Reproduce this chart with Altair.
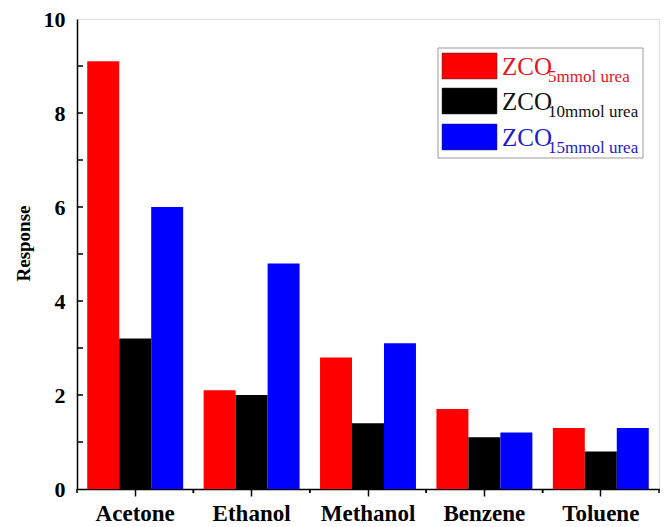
import altair as alt
import pandas as pd

categories = ["Acetone", "Ethanol", "Methanol", "Benzene", "Toluene"]
series = ["5mmol urea", "10mmol urea", "15mmol urea"]
vals_5 = [9.1, 2.1, 2.8, 1.7, 1.3]
vals_10 = [3.2, 2.0, 1.4, 1.1, 0.8]
vals_15 = [6.0, 4.8, 3.1, 1.2, 1.3]
bar_colors = ["#ff0000", "#000000", "#0000ff"]
text_colors = ["#e8141c", "#111111", "#1c1ccc"]
y_minor = [1, 2, 3, 4, 5, 6, 7, 8, 9]

rows = []
for s, vals in zip(series, [vals_5, vals_10, vals_15]):
    for c, v in zip(categories, vals):
        rows.append({"cat": c, "series": s, "value": v})
df = pd.DataFrame(rows)

FONT = "Liberation Serif"
W, H = 582, 470

xscale = alt.Scale(paddingInner=0, paddingOuter=0)
yscale = alt.Scale(domain=[0, 10], nice=False, zero=True)

bars = alt.Chart(df).mark_bar().encode(
    x=alt.X("cat:N", sort=categories, scale=xscale,
            axis=alt.Axis(title=None, labelAngle=0, tickSize=7, tickWidth=1.5,
                          tickColor="black", domainColor="black", domainWidth=1.5,
                          labelFont=FONT, labelFontWeight="bold", labelFontSize=23,
                          labelColor="black", labelPadding=6)),
    xOffset=alt.XOffset("series:N", sort=series,
                        scale=alt.Scale(paddingOuter=0.32, paddingInner=0)),
    y=alt.Y("value:Q", scale=yscale,
            axis=alt.Axis(values=[0, 2, 4, 6, 8, 10], ticks=False, grid=False,
                          domainColor="black", domainWidth=1.5,
                          labelFont=FONT, labelFontWeight="bold", labelFontSize=22,
                          labelColor="black", labelPadding=12,
                          title="Response", titleFont=FONT, titleFontWeight="bold",
                          titleFontSize=19, titleColor="black", titlePadding=10,
                          titleY=224)),
    color=alt.Color("series:N", sort=series,
                    scale=alt.Scale(domain=series, range=bar_colors), legend=None),
)

ytick_df = pd.DataFrame({"v": y_minor})
yticks = alt.Chart(ytick_df).mark_rule(color="black", strokeWidth=1.5).encode(
    y=alt.Y("v:Q", scale=yscale),
    x=alt.value(0), x2=alt.value(6),
)

cat_df = pd.DataFrame({"cat": categories})
xminor0 = alt.Chart(cat_df).mark_rule(color="black", strokeWidth=1.5).encode(
    x=alt.X("cat:N", sort=categories, bandPosition=0, scale=xscale),
    y=alt.value(H), y2=alt.value(H + 4),
)
xminor1 = alt.Chart(cat_df).mark_rule(color="black", strokeWidth=1.5).encode(
    x=alt.X("cat:N", sort=categories, bandPosition=1, scale=xscale),
    y=alt.value(H), y2=alt.value(H + 4),
)

one = pd.DataFrame({"a": [0]})
legend_layers = [
    alt.Chart(one).mark_rect(fill="white", stroke="#9a9a9a", strokeWidth=1).encode(
        x=alt.value(361), x2=alt.value(566), y=alt.value(29), y2=alt.value(139))
]
row_tops = [34, 69, 105]
for i, s in enumerate(series):
    top = row_tops[i]
    legend_layers.append(
        alt.Chart(one).mark_rect(fill=bar_colors[i], stroke="#333333", strokeWidth=0.5).encode(
            x=alt.value(365), x2=alt.value(420), y=alt.value(top), y2=alt.value(top + 26)))
    legend_layers.append(
        alt.Chart(one).mark_text(text="ZCO", font=FONT, fontSize=25, align="left",
                                 baseline="alphabetic", color=text_colors[i]).encode(
            x=alt.value(425), y=alt.value(top + 22)))
    legend_layers.append(
        alt.Chart(one).mark_text(text=s, font=FONT, fontSize=17, align="left",
                                 baseline="alphabetic", color=text_colors[i]).encode(
            x=alt.value(471), y=alt.value(top + 29)))

chart = alt.layer(bars, yticks, xminor0, xminor1, *legend_layers).properties(
    width=W, height=H,
    autosize=alt.AutoSizeParams(type="none"),
    padding={"left": 77, "top": 19, "right": 5, "bottom": 38},
).configure_view(stroke="black", strokeWidth=1.5).configure(background="white")

chart.save("out.html", embed_options={"renderer": "svg", "actions": False})
